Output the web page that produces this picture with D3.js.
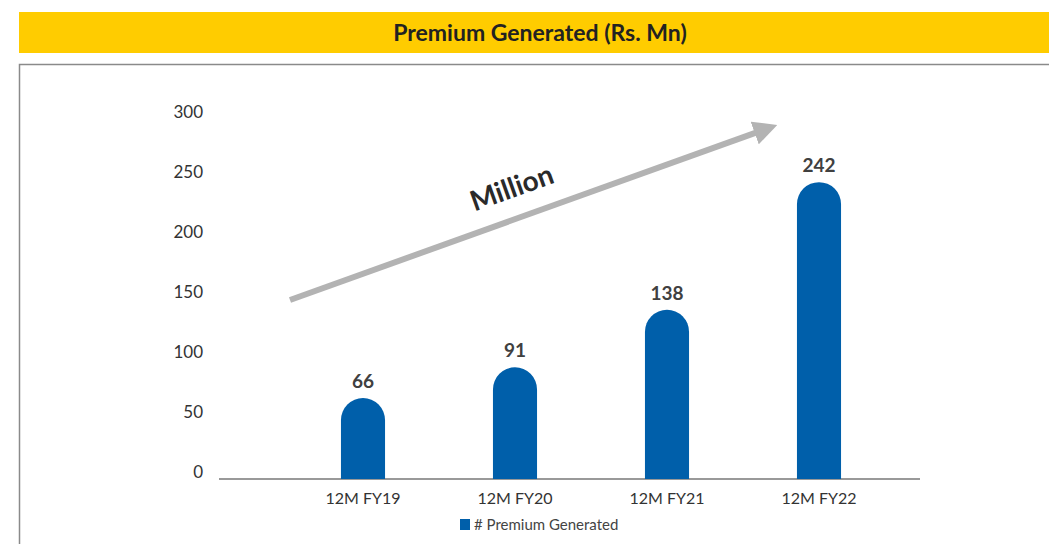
<!DOCTYPE html>
<html>
<head>
<meta charset="utf-8">
<script src="https://cdn.jsdelivr.net/npm/d3@7"></script>
<style>
  body { margin: 0; background: #fff; }
  svg { display: block; font-family: Lato, "Open Sans", sans-serif; }
</style>
</head>
<body>
<div id="chart"></div>
<script>
// data
var categories = ["12M FY19", "12M FY20", "12M FY21", "12M FY22"];
var premium = [66, 91, 138, 242];
var yTicks = [0, 50, 100, 150, 200, 250, 300];
var seriesName = "# Premium Generated";
var title = "Premium Generated (Rs. Mn)";

var width = 1049, height = 544;

var svg = d3.select("#chart").append("svg")
    .attr("width", width)
    .attr("height", height);

// title band
svg.append("rect")
    .attr("x", 19).attr("y", 12)
    .attr("width", width - 19).attr("height", 41)
    .style("fill", "#ffcc00");
svg.append("text")
    .attr("x", 540).attr("y", 41)
    .attr("text-anchor", "middle")
    .style("font-size", "23px")
    .style("font-weight", "bold")
    .style("fill", "#222")
    .text(title);

// frame
svg.append("rect")
    .attr("x", 19.5).attr("y", 64.5)
    .attr("width", 1100).attr("height", 600)
    .style("fill", "none")
    .style("stroke", "#8a8a8a")
    .style("stroke-width", 1.5);

// scales
var x = d3.scaleBand()
    .domain(categories)
    .range([287, 895])
    .paddingInner(0.71)
    .paddingOuter(0.355);
var y = d3.scaleLinear()
    .domain([0, 300])
    .range([479, 111]);
// tick labels sit on a slightly tighter grid than the bars
var yLab = d3.scaleLinear()
    .domain([0, 300])
    .range([472, 112]);

// y tick labels (no line)
svg.selectAll(".ytick")
    .data(yTicks)
  .enter().append("text")
    .attr("class", "ytick")
    .attr("x", 203)
    .attr("y", function(d) { return yLab(d); })
    .attr("dy", "0.35em")
    .attr("text-anchor", "end")
    .style("font-size", "17px")
    .style("fill", "#333")
    .text(function(d) { return d; });

// baseline
svg.append("line")
    .attr("x1", 219).attr("x2", 920)
    .attr("y1", y(0)).attr("y2", y(0))
    .style("stroke", "#777")
    .style("stroke-width", 1.5);

// bars with rounded tops
function barPath(d, i) {
  var bw = x.bandwidth(), r = bw / 2;
  var x0 = x(categories[i]), yt = y(d), yb = y(0);
  return "M" + x0 + "," + yb +
    "V" + (yt + r) +
    "A" + r + "," + r + " 0 0 1 " + (x0 + bw) + "," + (yt + r) +
    "V" + yb + "Z";
}
svg.selectAll(".bar")
    .data(premium)
  .enter().append("path")
    .attr("class", "bar")
    .attr("d", barPath)
    .style("fill", "#005faa");

// value labels
svg.selectAll(".val")
    .data(premium)
  .enter().append("text")
    .attr("class", "val")
    .attr("x", function(d, i) { return x(categories[i]) + x.bandwidth() / 2; })
    .attr("y", function(d) { return y(d) - 10; })
    .attr("text-anchor", "middle")
    .style("font-size", "19px")
    .style("font-weight", "bold")
    .style("fill", "#404040")
    .text(function(d) { return d; });

// category labels
svg.selectAll(".cat")
    .data(categories)
  .enter().append("text")
    .attr("class", "cat")
    .attr("x", function(d) { return x(d) + x.bandwidth() / 2; })
    .attr("y", 504)
    .attr("text-anchor", "middle")
    .style("font-size", "16px")
    .style("fill", "#333")
    .text(function(d) { return d; });

// legend
svg.append("rect")
    .attr("x", 460).attr("y", 519)
    .attr("width", 10).attr("height", 11)
    .style("fill", "#005faa");
svg.append("text")
    .attr("x", 474).attr("y", 530)
    .style("font-size", "15px")
    .style("fill", "#444")
    .text(seriesName);

// trend arrow
svg.append("defs").append("marker")
    .attr("id", "head")
    .attr("viewBox", "0 0 10 10")
    .attr("refX", 5).attr("refY", 5)
    .attr("markerWidth", 4).attr("markerHeight", 4)
    .attr("markerUnits", "strokeWidth")
    .attr("orient", "auto")
  .append("path")
    .attr("d", "M0,0L10,5L0,10Z")
    .style("fill", "#b3b3b3");

svg.append("line")
    .attr("x1", 290).attr("y1", 300)
    .attr("x2", 766).attr("y2", 129)
    .attr("marker-end", "url(#head)")
    .style("stroke", "#b3b3b3")
    .style("stroke-width", 6);

svg.append("text")
    .attr("transform", "translate(515,197) rotate(-19.7)")
    .attr("text-anchor", "middle")
    .style("font-size", "28px")
    .style("font-weight", "bold")
    .style("fill", "#2a2a2a")
    .text("Million");
</script>
</body>
</html>
